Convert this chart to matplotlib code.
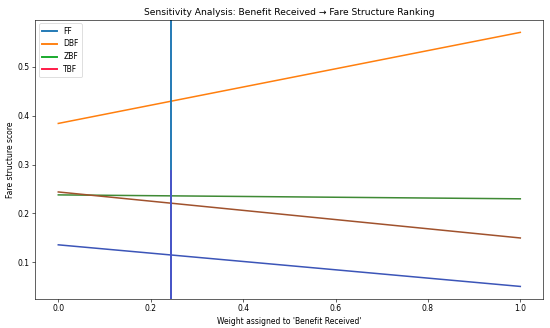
import matplotlib.pyplot as plt
from matplotlib.lines import Line2D

# weight assigned to 'Benefit Received'
weights = [0.0, 1.0]
ff = [0.136, 0.051]
dbf = [0.384, 0.570]
zbf = [0.238, 0.230]
tbf = [0.244, 0.150]
current_weight = 0.245

names = ['FF', 'DBF', 'ZBF', 'TBF']
legend_colors = ['#1f77b4', '#ff7f0e', '#16a82a', '#ff1744']
line_colors = ['#3c55b8', '#ff7f0e', '#3f8a35', '#a0522d']

fig, ax = plt.subplots(figsize=(10, 328 / 55), dpi=55)

for vals, c in zip([ff, dbf, zbf, tbf], line_colors):
    ax.plot(weights, vals, color=c, linewidth=2)

ax.axvline(current_weight, color='#1f77b4', linewidth=2.5)
ax.axvline(current_weight, ymin=0, ymax=0.46, color='#4a55c8', linewidth=2.5)

handles = [Line2D([0], [0], color=c, linewidth=2.5) for c in legend_colors]
ax.legend(handles, names, loc='upper left')

ax.set_title("Sensitivity Analysis: Benefit Received \u2192 Fare Structure Ranking")
ax.set_xlabel("Weight assigned to 'Benefit Received'")
ax.set_ylabel("Fare structure score")

fig.subplots_adjust(left=0.064, right=0.988, top=0.94, bottom=0.088)
fig.savefig('out.png', dpi=55)
